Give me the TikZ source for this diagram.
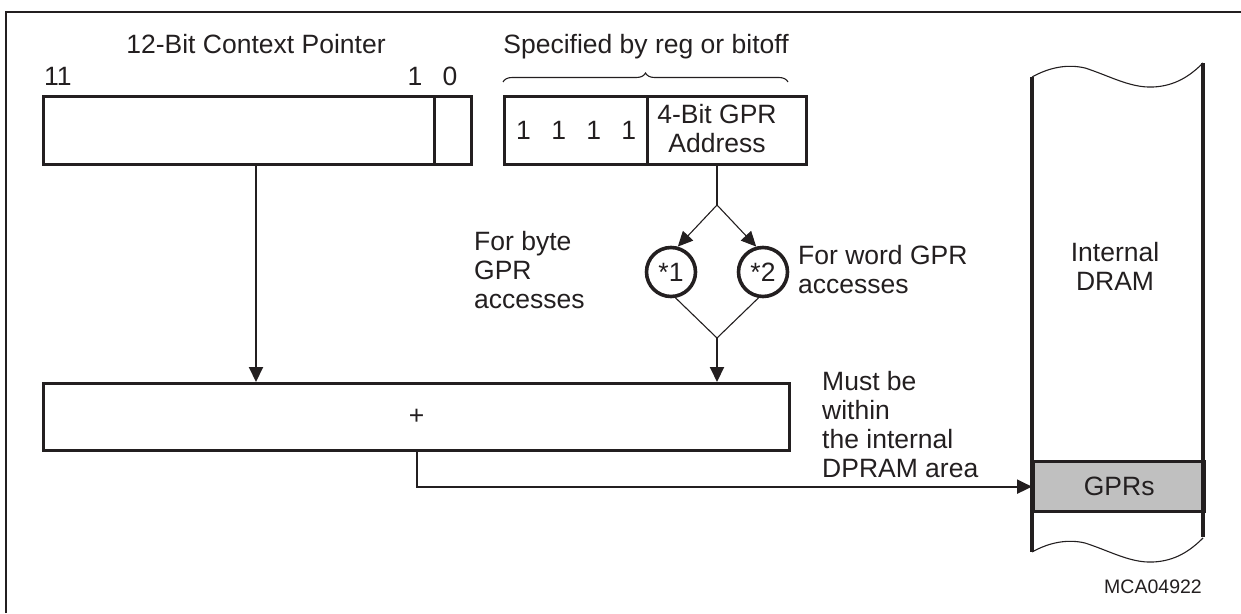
\documentclass[tikz,border=0pt]{standalone}
\usepackage{fontspec}
\setmainfont{Liberation Sans}
\usetikzlibrary{arrows.meta,decorations.pathreplacing}
\definecolor{ink}{RGB}{35,31,32}
\definecolor{gprgray}{RGB}{192,192,192}
\begin{document}
\begin{tikzpicture}[x=1pt,y=-1pt,
  font=\fontsize{26.5}{29}\selectfont,
  regbox/.style={draw=ink,line width=3.3pt,inner sep=0pt,anchor=north west,text=ink},
  lbl/.style={inner sep=0pt,text=ink},
  arr/.style={-{Triangle[length=15pt,width=14pt]}},
  heavy/.style={draw=ink,line width=2pt},
  light/.style={draw=ink,line width=1.1pt},
  bubble/.style={circle,draw=ink,line width=3.6pt,minimum size=49pt,inner sep=0pt,text=ink}]
\useasboundingbox (0,0) rectangle (1241,613);
% frame
\draw[heavy] (6,613) -- (6,12) -- (1241,12);
% context pointer
\node[regbox,minimum width=391pt,minimum height=68pt] (cp) at (42,95) {};
\node[regbox,minimum width=37pt,minimum height=68pt] (cp0) at (433,95) {};
\node[lbl,anchor=base] (cptitle) at (256,53) {12-Bit Context Pointer};
\node[lbl,anchor=base west] (b11) at (44,85) {11};
\node[lbl,anchor=base] (b1) at (415,85) {1};
\node[lbl,anchor=base] (b0) at (450,85) {0};
% GPR specifier
\node[lbl,anchor=base] (spec) at (646,53) {Specified by reg or bitoff};
\draw[light,decorate,decoration={brace,amplitude=9pt}] (503,82) -- (788,82);
\node[regbox,minimum width=143pt,minimum height=68pt] (ones) at (503,95) {1\hspace{20.3pt}1\hspace{20.3pt}1\hspace{20.3pt}1};
\node[regbox,minimum width=159pt,minimum height=68pt] (addr) at (646,95) {};
\node[lbl,align=center,anchor=base] (addrtxt) at (717,152) {4-Bit GPR\\Address};
% bubbles
\coordinate (split) at (717,205);
\coordinate (join) at (717,338);
\node[bubble] (c1) at (671,272) {*1};
\node[bubble] (c2) at (763,272) {*2};
\node[lbl,align=left,anchor=base west] (bytetxt) at (474,308) {For byte\\GPR\\accesses};
\node[lbl,align=left,anchor=base west] (wordtxt) at (798,293) {For word GPR\\accesses};
% adder
\node[regbox,minimum width=746pt,minimum height=67pt] (plus) at (42,382) {+};
\node[lbl,align=left,anchor=base west] (must) at (822,477) {Must be\\within\\the internal\\DPRAM area};
% DRAM
\node[regbox,fill=gprgray,minimum width=171pt,minimum height=50pt] (gprs) at (1032,460) {GPRs};
\draw[draw=ink,line width=3.3pt] (1032,77) -- (1032,552);
\draw[draw=ink,line width=3.3pt] (1203,63) -- (1203,537);
\foreach \dy in {0,475}{
  \draw[light] (1032,77+\dy) .. controls (1050,67+\dy) and (1068,64+\dy) .. (1085,68+\dy)
    .. controls (1110,76+\dy) and (1130,88+\dy) .. (1153,87+\dy)
    .. controls (1175,86+\dy) and (1190,76+\dy) .. (1203,63+\dy);
}
\node[lbl,align=center,anchor=base] (dram) at (1115,290) {Internal\\DRAM};
\node[lbl,font=\fontsize{19.5}{22}\selectfont,anchor=base] (mca) at (1153,593) {MCA04922};
% connectors
\draw[heavy,arr] (256,0 |- cp.south) -- (256,0 |- plus.north);
\draw[heavy] (717,0 |- addr.south) -- (split);
\draw[light,arr] (split) -- (c1.75);
\draw[light,arr] (split) -- (c2.105);
\draw[light] (c1.-80) -- (join);
\draw[light] (c2.-100) -- (join);
\draw[heavy,arr] (join) -- (717,0 |- plus.north);
\draw[heavy,arr] (plus.south) |- (gprs.west);
\end{tikzpicture}
\end{document}
